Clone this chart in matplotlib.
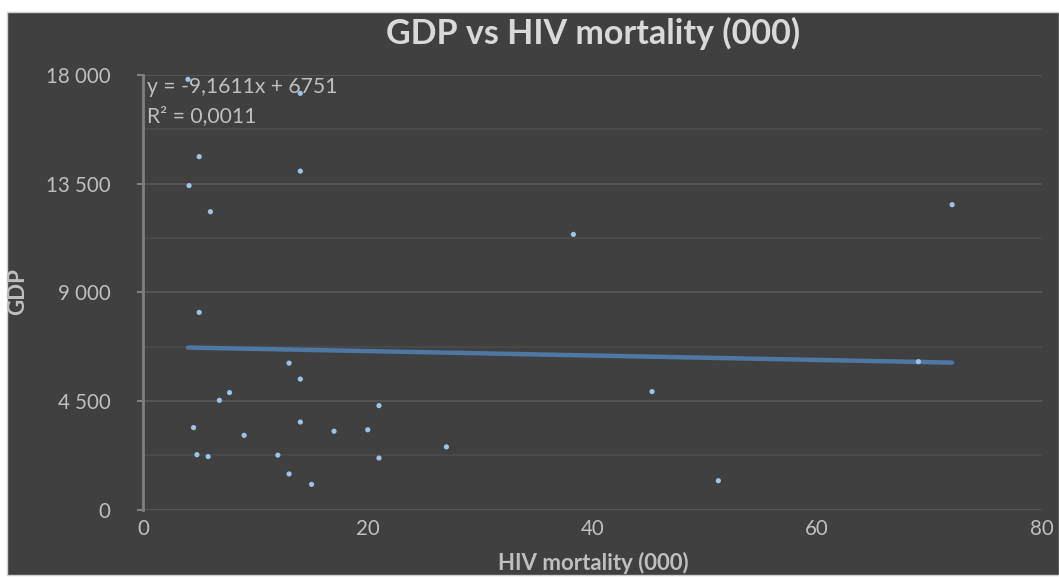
"""GDP vs HIV mortality scatter, Excel-style dark chart."""
import numpy as np
import matplotlib
matplotlib.use('Agg')
import matplotlib.pyplot as plt
from matplotlib.patches import Rectangle
from matplotlib.ticker import MultipleLocator, FuncFormatter

# data
hiv_mortality = [4.0, 14.0, 5.0, 14.0, 4.1, 6.0, 38.3, 72.0, 5.0, 13.0, 14.0, 7.7, 6.8,
                 21.0, 4.5, 14.0, 17.0, 20.0, 9.0, 27.0, 4.8, 5.8, 12.0, 21.0, 13.0,
                 15.0, 45.3, 51.2, 69.0]
gdp = [17820, 17240, 14620, 14020, 13420, 12340, 11400, 12630, 8170, 6070, 5410, 4850, 4530,
       4310, 3400, 3630, 3250, 3310, 3080, 2600, 2280, 2200, 2260, 2140, 1480,
       1050, 4890, 1200, 6130]
slope, intercept, r2 = -9.1611, 6751, 0.0011
x_ticks = [0, 20, 40, 60, 80]

BG = '#404040'; TXT = '#bfbfbf'; TITLE = '#d9d9d9'
plt.rcParams['font.family'] = ['Lato', 'DejaVu Sans']

fig = plt.figure(figsize=(10.59, 5.77), dpi=100, facecolor='white')
fig.patches.append(Rectangle((7/1059, 2/577), 1 - 7/1059, 563/577, transform=fig.transFigure,
                             facecolor=BG, edgecolor='#d0d0d0', lw=1, zorder=-5))
ax = fig.add_axes([143/1059, 1 - 509.7/577, 899/1059, 434.7/577])
ax.set_facecolor(BG)

ax.set_xlim(0, 80); ax.set_ylim(0, 18000)
ax.yaxis.set_major_locator(MultipleLocator(4500))
ax.yaxis.set_minor_locator(MultipleLocator(2250))
ax.set_xticks(x_ticks)
ax.yaxis.set_major_formatter(FuncFormatter(lambda v, p: f'{int(v):,}'.replace(',', ' ')))
ax.grid(axis='y', which='major', color='#575757', lw=1.3)
ax.grid(axis='y', which='minor', color='#4b4b4b', lw=1.3)
ax.set_axisbelow(True)
for s in ['top', 'right', 'bottom']:
    ax.spines[s].set_visible(False)
ax.spines['left'].set_color('#808080'); ax.spines['left'].set_linewidth(2)
ax.tick_params(axis='y', which='major', colors='#808080', length=4.3, width=1.5,
               labelcolor=TXT, labelsize=14.8, pad=19)
ax.tick_params(axis='y', which='minor', length=0)
ax.tick_params(axis='x', length=0, labelcolor=TXT, labelsize=14.8, pad=7)

# trendline from the fitted equation
xt = np.array([min(hiv_mortality), max(hiv_mortality)])
ax.plot(xt, slope * xt + intercept, color='#4e77a3', lw=3.2, solid_capstyle='round', zorder=2)
ax.scatter(hiv_mortality, gdp, s=14, color='#9dc3e6', edgecolors='none', zorder=3)

ax.text(0.004, 0.995, f'y = {slope}x + {intercept}'.replace('.', ','), transform=ax.transAxes,
        color=TXT, fontsize=15.2, va='top', ha='left')
ax.text(0.004, 0.928, f'R² = {r2}'.replace('.', ','), transform=ax.transAxes,
        color=TXT, fontsize=15.2, va='top', ha='left')

fig.text(593/1059, 1 - 33/577, 'GDP vs HIV mortality (000)', color=TITLE, fontsize=24.5,
         fontweight='bold', ha='center', va='center')
fig.text(593/1059, 1 - 563/577, 'HIV mortality (000)', color=TXT, fontsize=16,
         fontweight='bold', ha='center', va='center')
fig.text(18/1059, 1 - 292/577, 'GDP', color=TXT, fontsize=16, fontweight='bold',
         rotation=90, ha='center', va='center')

fig.savefig('out.png', dpi=100, facecolor='white')
